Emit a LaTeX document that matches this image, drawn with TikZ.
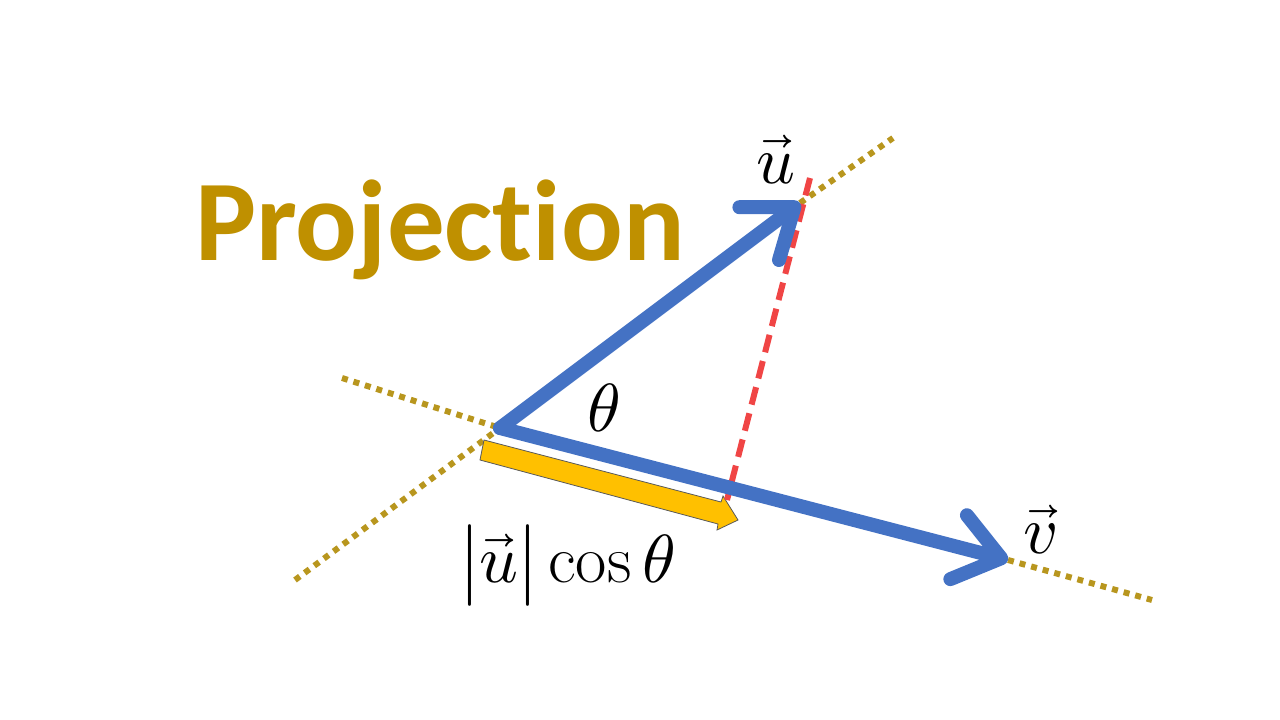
\documentclass[tikz,border=0pt]{standalone}
\usepackage{fontspec}
\usepackage{unicode-math}
\setmathfont{Latin Modern Math}
\newfontfamily\carlitofont[Ligatures=NoCommon]{Carlito}
\usetikzlibrary{arrows.meta}
\definecolor{blu}{HTML}{4472C4}
\definecolor{gold}{HTML}{BF9000}
\definecolor{olive}{HTML}{B8961E}
\definecolor{redd}{HTML}{F04545}
\definecolor{yel}{HTML}{FFC000}
\tikzset{
 vec/.style={draw=blu,line width=14pt,line cap=round,-{Straight Barb[length=44pt,width=66pt,round]}},
 dots/.style={draw=olive,line width=6pt,dash pattern=on 6pt off 6pt},
 lbl/.style={inner sep=0pt,font=\fontsize{68}{68}\selectfont}
}
\begin{document}
\begin{tikzpicture}[x=1pt,y=-1pt]
\useasboundingbox (0,0) rectangle (1280,720);
\coordinate (O) at (500,428);
\coordinate (U) at (800,203);
\coordinate (V) at (1008,560);
\coordinate (A1) at (342,378);
\coordinate (A2) at (1152,600);
\coordinate (B1) at (295,580);
\coordinate (B2) at (893,138);
\draw[dots] (A1) -- (O);
\draw[dots] (V) -- (A2);
\draw[dots] (B1) -- (O);
\draw[dots] (U) -- (B2);
\draw[fill=yel,draw=gray!70!black,line width=0.8pt] (484,440) -- (721,502) -- (723,496) -- (738,520) -- (717,530) -- (718,524) -- (480,460) -- cycle;
\draw[redd,line width=6pt,dash pattern=on 18pt off 9pt] (810,178) -- (727,500);
\draw[vec] (O) -- (U);
\draw[vec] (O) -- (V);
\node[font=\carlitofont\bfseries\fontsize{115}{115}\selectfont,text=gold,inner sep=0pt] (P) at (440,230) {Projection};
\node[lbl] (lu) at (776,160) {$\vec{u}$};
\node[lbl] (lt) at (604,408) {$\theta$};
\node[lbl] (lv) at (1040,530) {$\vec{v}$};
\node[lbl] (lc) at (568,565) {$\left|\vec{u}\vphantom{\big|}\right|\cos\theta$};
\end{tikzpicture}
\end{document}
